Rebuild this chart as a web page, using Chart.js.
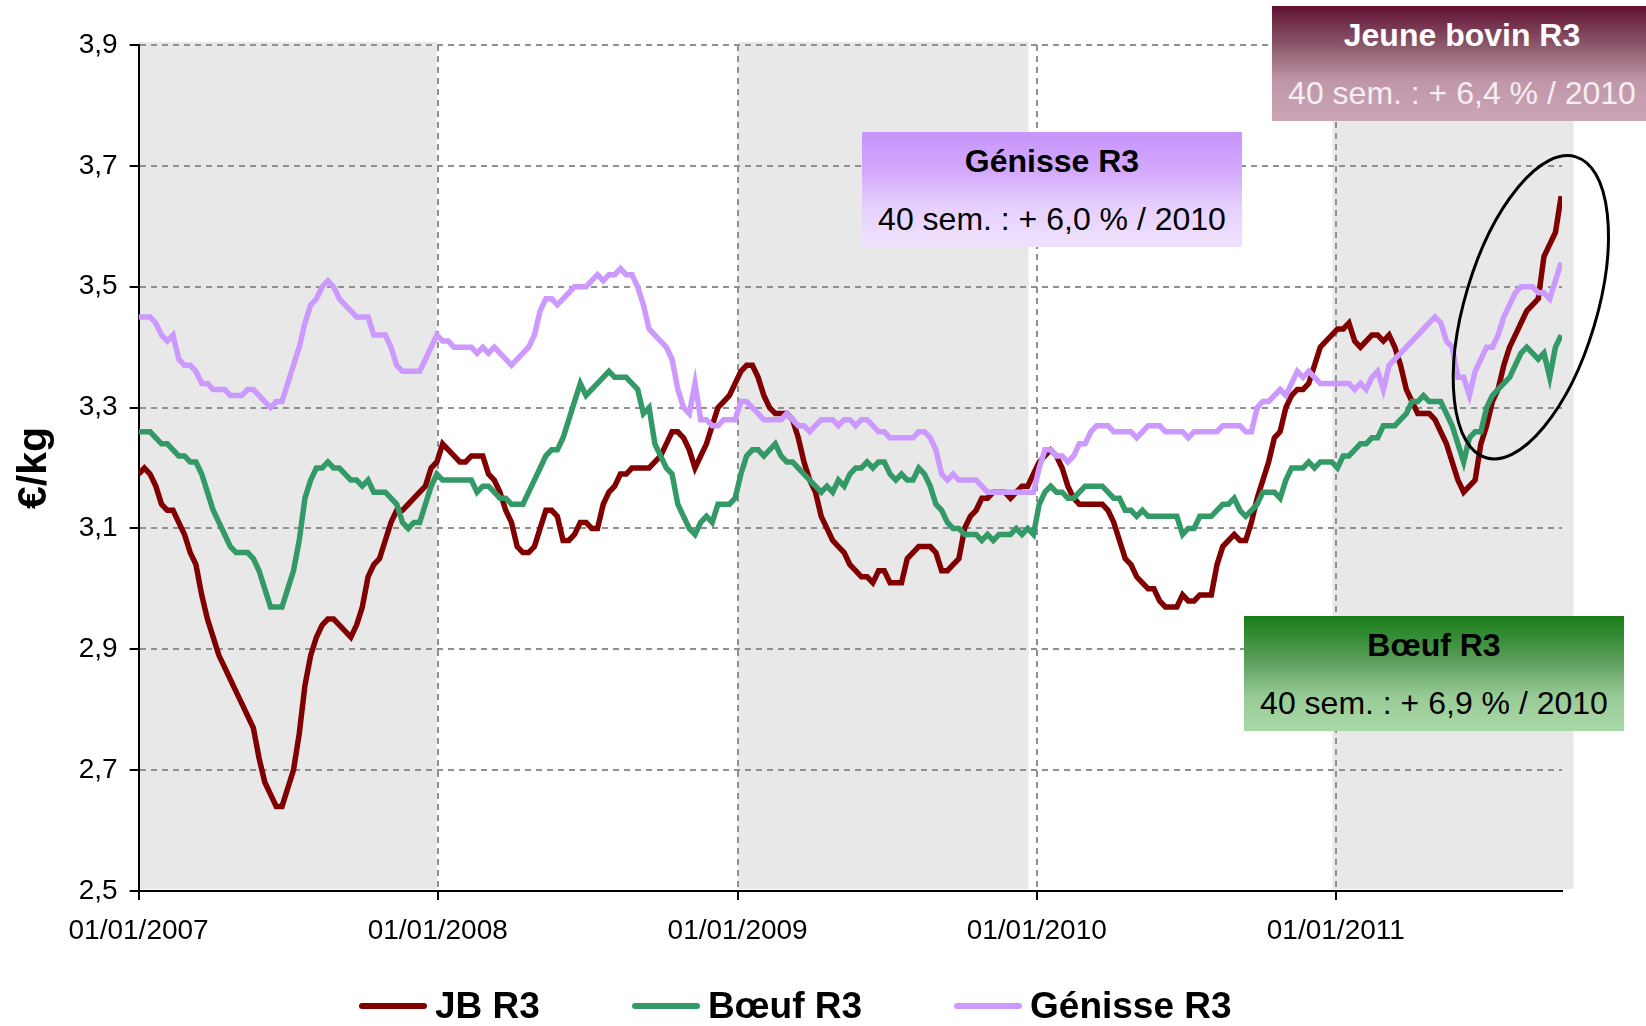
<!DOCTYPE html>
<html lang="fr">
<head>
<meta charset="utf-8">
<title>Cotations JB, Bœuf et Génisse R3</title>
<script src="https://cdn.jsdelivr.net/npm/chart.js@4.4.1/dist/chart.umd.min.js"></script>
<style>
  body{margin:0;background:#fff;overflow:hidden}
  #wrap{position:relative;width:1646px;height:1026px;overflow:hidden;font-family:"Liberation Sans",Arial,sans-serif}
  #wrap canvas{position:absolute;left:0;top:0}
  .note{position:absolute;width:380px;height:115px;text-align:center;color:#000}
  .note div{position:absolute;left:0;right:0;font-size:32px;line-height:32px;white-space:nowrap}
  .note .t{top:13px;font-weight:bold}
  .note .s{top:71px}
  #note-jb{left:1272px;top:6px;color:#fff;background:linear-gradient(180deg,#611133 0%,#8c5a6d 35%,#bf96a8 65%,#caa6b6 100%)}
  #note-jb .s{color:#f6eef2}
  #note-gen{left:862px;top:132px;background:linear-gradient(180deg,#c794fb 0%,#d3aafb 35%,#e6cffd 65%,#efe2fe 100%)}
  #note-boeuf{left:1244px;top:616px;background:linear-gradient(180deg,#167d16 0%,#5d9f5d 40%,#98cb96 70%,#a9d8a7 100%)}
  #legend{position:absolute;left:359px;top:987px;display:flex;gap:92px;font-size:37px;line-height:37px;font-weight:bold;color:#000;white-space:nowrap}
  #legend .item{display:flex;align-items:center}
  #legend .swatch{display:inline-block;width:68px;height:6px;border-radius:3px;margin-right:8px}
</style>
</head>
<body>
<div id="wrap">
  <canvas id="chart" width="1646" height="1026"></canvas>
  <div class="note" id="note-jb"><div class="t">Jeune bovin R3</div><div class="s">40 sem. : + 6,4 % / 2010</div></div>
  <div class="note" id="note-gen"><div class="t">Génisse R3</div><div class="s">40 sem. : + 6,0 % / 2010</div></div>
  <div class="note" id="note-boeuf"><div class="t">Bœuf R3</div><div class="s">40 sem. : + 6,9 % / 2010</div></div>
  <div id="legend"></div>
</div>
<script>
// x axis: days since 01/01/2007, one point per week
const yearStarts = [0, 365, 731, 1096, 1461]
const yearLabels = ['01/01/2007', '01/01/2008', '01/01/2009', '01/01/2010', '01/01/2011']
// grey background periods (2007, 2009, 2011), in days
const shadedYears = [[0, 364], [731, 1086], [1457, 1751]]

// weekly prices, €/kg, week 1 2007 -> week 40 2011
const jbR3 = [
  3.19,3.20,3.19,3.17,3.14,3.13,3.13,3.11,3.09,3.06, 3.04,2.99,2.95,2.92,2.89,2.87,2.85,2.83,2.81,2.79,
  2.77,2.72,2.68,2.66,2.64,2.64,2.67,2.70,2.76,2.84, 2.89,2.92,2.94,2.95,2.95,2.94,2.93,2.92,2.94,2.97,
  3.02,3.04,3.05,3.08,3.11,3.13,3.13,3.14,3.15,3.16, 3.17,3.20,
  3.21,3.24,3.23,3.22,3.21,3.21,3.22,3.22,3.22,3.19, 3.18,3.16,3.13,3.11,3.07,3.06,3.06,3.07,3.10,3.13,
  3.13,3.12,3.08,3.08,3.09,3.11,3.11,3.10,3.10,3.14, 3.16,3.17,3.19,
  3.19,3.20,3.20,3.20,3.20,3.21,3.22,3.24,3.26,3.26, 3.25,3.23,3.20,3.22,3.24,3.27,3.30,3.31,3.32,3.34,
  3.36,3.37,3.37,3.35,3.32,3.30,3.29,3.29,3.29,3.28, 3.25,3.21,3.18,3.16,3.12,3.10,3.08,3.07,3.06,3.04,
  3.03,3.02,3.02,3.01,3.03,3.03,3.01,3.01,3.01,3.05, 3.06,3.07,3.07,3.07,3.06,3.03,3.03,3.04,3.05,3.10,
  3.12,3.13,3.15,3.15,3.16,3.16,3.16,3.15,3.16,3.17, 3.17,3.19,3.21,3.22,3.23,3.22,3.20,3.17,3.15,3.14,
  3.14,3.14,3.14,
  3.14,3.13,3.11,3.08,3.05,3.04,3.02,3.01,3.00,3.00, 2.98,2.97,2.97,2.97,2.99,2.98,2.98,2.99,2.99,2.99,
  3.04,3.07,3.08,3.09,3.08,3.08,3.11,3.15,3.18,3.21, 3.25,3.26,3.30,3.32,3.33,3.33,3.34,3.37,3.40,3.41,
  3.42,3.43,3.43,3.44,3.41,3.40,3.41,3.42,3.42,3.41, 3.42,3.40,3.37,3.33,3.31,3.29,3.29,3.29,3.28,3.26,
  3.24,3.21,3.18,3.16,3.17,3.18,3.24,3.27,3.31,3.33, 3.37,3.40,3.42,3.44,3.46,3.47,3.48,3.55,3.57,3.59,
  3.65
]
const boeufR3 = [
  3.26,3.26,3.26,3.25,3.24,3.24,3.23,3.22,3.22,3.21, 3.21,3.19,3.16,3.13,3.11,3.09,3.07,3.06,3.06,3.06,
  3.05,3.03,3.00,2.97,2.97,2.97,3.00,3.03,3.08,3.15, 3.18,3.20,3.20,3.21,3.20,3.20,3.19,3.18,3.18,3.17,
  3.18,3.16,3.16,3.16,3.15,3.14,3.11,3.10,3.11,3.11, 3.14,3.17,
  3.19,3.18,3.18,3.18,3.18,3.18,3.18,3.16,3.17,3.17, 3.16,3.15,3.15,3.14,3.14,3.14,3.16,3.18,3.20,3.22,
  3.23,3.23,3.25,3.28,3.31,3.34,3.32,3.33,3.34,3.35, 3.36,3.35,3.35,
  3.35,3.34,3.33,3.29,3.30,3.24,3.22,3.20,3.19,3.14, 3.12,3.10,3.09,3.11,3.12,3.11,3.14,3.14,3.14,3.15,
  3.19,3.22,3.23,3.23,3.22,3.23,3.24,3.22,3.21,3.21, 3.20,3.19,3.18,3.17,3.16,3.17,3.16,3.18,3.17,3.19,
  3.20,3.20,3.21,3.20,3.21,3.21,3.19,3.18,3.19,3.18, 3.18,3.20,3.19,3.17,3.14,3.13,3.11,3.10,3.10,3.09,
  3.09,3.09,3.08,3.09,3.08,3.09,3.09,3.09,3.10,3.09, 3.10,3.09,3.14,3.16,3.17,3.16,3.16,3.15,3.15,3.16,
  3.17,3.17,3.17,
  3.17,3.16,3.15,3.15,3.13,3.13,3.12,3.13,3.12,3.12, 3.12,3.12,3.12,3.12,3.09,3.10,3.10,3.12,3.12,3.12,
  3.13,3.14,3.14,3.15,3.13,3.12,3.13,3.14,3.16,3.16, 3.16,3.15,3.18,3.20,3.20,3.20,3.21,3.20,3.21,3.21,
  3.21,3.20,3.22,3.22,3.23,3.24,3.24,3.25,3.25,3.27, 3.27,3.27,3.28,3.29,3.31,3.31,3.32,3.31,3.31,3.31,
  3.29,3.27,3.24,3.21,3.25,3.26,3.26,3.30,3.32,3.33, 3.34,3.35,3.37,3.39,3.40,3.39,3.38,3.39,3.35,3.40,
  3.42
]
const genisseR3 = [
  3.45,3.45,3.45,3.44,3.42,3.41,3.42,3.38,3.37,3.37, 3.36,3.34,3.34,3.33,3.33,3.33,3.32,3.32,3.32,3.33,
  3.33,3.32,3.31,3.30,3.31,3.31,3.34,3.37,3.40,3.44, 3.47,3.48,3.50,3.51,3.50,3.48,3.47,3.46,3.45,3.45,
  3.45,3.42,3.42,3.42,3.40,3.37,3.36,3.36,3.36,3.36, 3.38,3.40,
  3.42,3.41,3.41,3.40,3.40,3.40,3.40,3.39,3.40,3.39, 3.40,3.39,3.38,3.37,3.38,3.39,3.40,3.42,3.46,3.48,
  3.48,3.47,3.48,3.49,3.50,3.50,3.50,3.51,3.52,3.51, 3.52,3.52,3.53,
  3.52,3.52,3.50,3.47,3.43,3.42,3.41,3.40,3.38,3.33, 3.30,3.29,3.34,3.28,3.28,3.27,3.27,3.28,3.28,3.28,
  3.31,3.31,3.30,3.29,3.28,3.28,3.28,3.28,3.29,3.28, 3.27,3.27,3.26,3.27,3.28,3.28,3.28,3.27,3.28,3.28,
  3.27,3.28,3.28,3.27,3.26,3.26,3.25,3.25,3.25,3.25, 3.25,3.26,3.26,3.25,3.23,3.19,3.18,3.19,3.18,3.18,
  3.18,3.18,3.17,3.16,3.16,3.16,3.16,3.16,3.16,3.16, 3.16,3.16,3.20,3.23,3.23,3.22,3.22,3.21,3.22,3.24,
  3.24,3.26,3.27,
  3.27,3.27,3.26,3.26,3.26,3.26,3.25,3.26,3.27,3.27, 3.27,3.26,3.26,3.26,3.26,3.25,3.26,3.26,3.26,3.26,
  3.26,3.27,3.27,3.27,3.27,3.26,3.26,3.30,3.31,3.31, 3.32,3.33,3.32,3.34,3.36,3.35,3.36,3.35,3.34,3.34,
  3.34,3.34,3.34,3.34,3.33,3.34,3.33,3.35,3.36,3.33, 3.37,3.38,3.39,3.40,3.41,3.42,3.43,3.44,3.45,3.44,
  3.41,3.40,3.35,3.35,3.32,3.36,3.38,3.40,3.40,3.42, 3.45,3.47,3.49,3.50,3.50,3.50,3.49,3.49,3.48,3.51,
  3.54
]
const weekDays = jbR3.map((_, i) => i * 7)
const toPoints = arr => arr.map((v, i) => ({x: weekDays[i], y: v}))

Chart.defaults.font.family = '"Liberation Sans", Arial, sans-serif'
Chart.defaults.color = '#000'

// grey year bands under the grid
const yearBands = {
  id: 'yearBands',
  beforeDraw(chart){
    const {ctx, chartArea: a, scales: {x}} = chart
    ctx.save(); ctx.fillStyle = '#e8e8e8'
    shadedYears.forEach(([from, to]) => {
      const l = x.getPixelForValue(from), r = x.getPixelForValue(to)
      ctx.fillRect(l, a.top - 3, r - l, a.bottom - a.top + 1)
    })
    ctx.restore()
  }
}

// black ring around the last weeks of 2011
const ring = {
  id: 'ring',
  afterDatasetsDraw(chart){
    const {ctx, scales: {x, y}} = chart
    ctx.save()
    ctx.beginPath()
    ctx.ellipse(x.getPixelForValue(1699), y.getPixelForValue(3.466), 66, 157, 0.29, 0, Math.PI * 2)
    ctx.lineWidth = 3; ctx.strokeStyle = '#000'; ctx.stroke()
    ctx.restore()
  }
}

// legend built in html from the chart's own legend items (dataset order)
const htmlLegend = {
  id: 'htmlLegend',
  afterUpdate(chart){
    const box = document.getElementById('legend'); box.innerHTML = ''
    Chart.defaults.plugins.legend.labels.generateLabels(chart)
      .sort((a, b) => a.datasetIndex - b.datasetIndex)
      .forEach(item => {
        const el = document.createElement('div'); el.className = 'item'
        el.innerHTML = `<span class="swatch" style="background:${item.strokeStyle}"></span><span>${item.text}</span>`
        box.appendChild(el)
      })
  }
}

const line = (label, data, color, order) => ({
  label, data: toPoints(data), borderColor: color, backgroundColor: color,
  borderWidth: 5.5, pointRadius: 0, tension: 0, order
})

const gridStyle = {color: '#909090', lineWidth: 2, tickColor: '#000', tickWidth: 2, tickLength: 9}
const borderStyle = {color: '#000', width: 2, dash: [6, 5]}

new Chart(document.getElementById('chart'), {
  type: 'line',
  data: {datasets: [
    line('JB R3', jbR3, '#800000', 3),
    line('Bœuf R3', boeufR3, '#339966', 2),
    line('Génisse R3', genisseR3, '#cc99ff', 1)
  ]},
  options: {
    responsive: false, animation: false, devicePixelRatio: 1,
    layout: {padding: {left: 10, right: 84, top: 45, bottom: 75}},
    plugins: {
      tooltip: {enabled: false},
      legend: {display: false}
    },
    scales: {
      x: {
        type: 'linear', min: 0, max: 1737,
        afterFit: s => { s.height = 60 },
        afterBuildTicks: s => { s.ticks = yearStarts.map(v => ({value: v})) },
        ticks: {font: {size: 28}, padding: 14, maxRotation: 0, autoSkip: false, callback: (v, i) => yearLabels[i]},
        grid: gridStyle, border: borderStyle
      },
      y: {
        min: 2.5, max: 3.9,
        afterFit: s => { s.width = 128.6 },
        ticks: {stepSize: 0.2, font: {size: 28}, padding: 12, callback: v => v.toFixed(1).replace('.', ',')},
        title: {display: true, text: '€/kg', font: {size: 41, weight: 'bold'}, padding: 0},
        grid: gridStyle, border: borderStyle
      }
    }
  },
  plugins: [yearBands, ring, htmlLegend]
})
</script>
</body>
</html>
